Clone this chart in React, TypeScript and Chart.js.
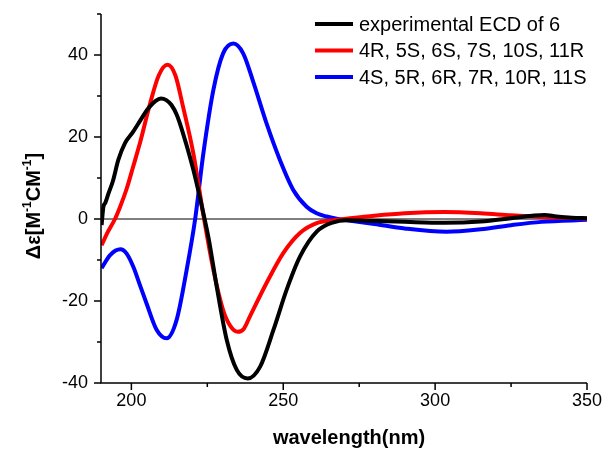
import React, { useEffect, useRef } from "react";
import { Chart, registerables } from "chart.js";

Chart.register(...registerables);

// ---- data (wavelength in nm, Δε) ----
const expX = [190.2, 190.8, 191.4, 192.5, 193.9, 195.7, 197.9, 200.6, 202.3, 205.6, 208.0, 209.7, 211.5, 213.2, 215.0, 217.0, 220.4, 223.7, 225.5, 228.1, 231.4, 234.7, 238.3, 242.4, 246.8, 251.1, 255.5, 261.0, 266.5, 270.9, 280, 290, 303, 315, 325, 332, 336, 340, 345, 350];
const expY = [-1.5, 3.0, 3.9, 6.3, 9.2, 14.4, 18.5, 21.3, 23.3, 27.0, 28.8, 29.4, 29.0, 27.8, 25.3, 20.9, 12.0, 1.4, -5.0, -16.5, -29.5, -36.8, -38.9, -36.0, -27.0, -17.3, -9.2, -3.1, -0.8, -0.3, -0.5, -0.7, -0.9, -0.6, 0.2, 0.8, 1.0, 0.6, 0.3, 0.2];

const calcAX = [190.2, 192.0, 194.6, 196.3, 198.5, 200.6, 203.0, 206.1, 209.0, 211.9, 214.5, 217.0, 220.4, 223.7, 227.0, 230.2, 232.5, 235.0, 237.0, 239.0, 244.5, 250.0, 255.5, 261.0, 266.5, 270.0, 280, 290, 303, 315, 325, 335, 350];
const calcAY = [-6.4, -3.5, 0.0, 3.0, 7.5, 12.8, 19.0, 28.0, 35.0, 37.6, 35.0, 27.4, 16.0, 1.0, -12.4, -22.2, -26.0, -27.5, -26.8, -23.8, -15.6, -8.3, -3.4, -1.0, -0.3, 0.0, 0.8, 1.4, 1.7, 1.4, 0.9, 0.5, 0.1];

const calcBX = [190.2, 193.0, 196.4, 198.5, 200.6, 203.0, 205.0, 208.3, 211.6, 214.9, 218.2, 221.0, 223.7, 227.0, 230.2, 233.6, 236.8, 240.1, 244.5, 248.9, 253.3, 257.7, 261.0, 264.3, 268.0, 271.0, 280, 290, 303.7, 315, 325, 335, 350];
const calcBY = [-12.0, -8.8, -7.4, -8.5, -11.6, -16.5, -20.6, -27.0, -29.1, -24.6, -12.4, 0.0, 16.0, 31.5, 40.4, 42.8, 40.4, 33.5, 23.3, 14.4, 7.1, 3.0, 1.4, 0.6, 0.0, -0.3, -1.2, -2.3, -3.1, -2.5, -1.5, -0.7, -0.2];

const seriesLabels = ["experimental ECD of 6", "4R, 5S, 6S, 7S, 10S, 11R", "4S, 5R, 6R, 7R, 10R, 11S"];
const seriesColors = ["#000000", "#ff0000", "#0000ff"];

const xMajorTicks = [200, 250, 300, 350];
const xMinorTicks = [225, 275, 325];
const yMajorTicks = [-40, -20, 0, 20, 40];
const yMinorTicks = [-30, -10, 10, 30, 50];
const xRange = [190, 350];
const yRange = [-40, 50];

const xTitle = "wavelength(nm)";
const yTitleParts = [
  { t: "Δε[M", sup: false },
  { t: "-1", sup: true },
  { t: "CM", sup: false },
  { t: "-1", sup: true },
  { t: "]", sup: false },
];

const FONT = "'Liberation Sans', Arial, Helvetica, sans-serif";

const zip = (xs: number[], ys: number[]) => xs.map((x, i) => ({ x, y: ys[i] }));

const decorPlugin = {
  id: "decor",
  beforeDatasetsDraw(chart: any) {
    const { ctx, chartArea, scales } = chart;
    const y0 = scales.y.getPixelForValue(0);
    ctx.save();
    ctx.strokeStyle = "#000";
    ctx.lineWidth = 1;
    ctx.beginPath();
    ctx.moveTo(chartArea.left, y0);
    ctx.lineTo(chartArea.right, y0);
    ctx.stroke();
    ctx.restore();
  },
  afterDraw(chart: any) {
    const { ctx, chartArea, scales } = chart;
    const { left, right, top, bottom } = chartArea;
    ctx.save();
    ctx.strokeStyle = "#000";
    ctx.lineWidth = 1.5;
    // axes
    ctx.beginPath();
    ctx.moveTo(left, top);
    ctx.lineTo(left, bottom);
    ctx.lineTo(right, bottom);
    ctx.stroke();
    // ticks
    ctx.beginPath();
    xMajorTicks.forEach((v) => {
      const px = scales.x.getPixelForValue(v);
      ctx.moveTo(px, bottom);
      ctx.lineTo(px, bottom + 7);
    });
    xMinorTicks.forEach((v) => {
      const px = scales.x.getPixelForValue(v);
      ctx.moveTo(px, bottom);
      ctx.lineTo(px, bottom + 4);
    });
    yMajorTicks.forEach((v) => {
      const py = scales.y.getPixelForValue(v);
      ctx.moveTo(left, py);
      ctx.lineTo(left - 7, py);
    });
    yMinorTicks.forEach((v) => {
      const py = scales.y.getPixelForValue(v);
      ctx.moveTo(left, py);
      ctx.lineTo(left - 4, py);
    });
    ctx.stroke();

    // legend
    ctx.font = `20px ${FONT}`;
    ctx.textBaseline = "middle";
    ctx.textAlign = "left";
    seriesLabels.forEach((lab, i) => {
      const yy = 24 + i * 26.5;
      ctx.strokeStyle = seriesColors[i];
      ctx.lineWidth = 4;
      ctx.beginPath();
      ctx.moveTo(315, yy);
      ctx.lineTo(353, yy);
      ctx.stroke();
      ctx.fillStyle = "#000";
      ctx.fillText(lab, 359, yy + 1);
    });

    // x title
    ctx.fillStyle = "#000";
    ctx.font = `bold 20px ${FONT}`;
    ctx.textAlign = "center";
    ctx.textBaseline = "middle";
    ctx.fillText(xTitle, 349, 438);

    // y title (rotated, with superscripts)
    ctx.translate(34, 206);
    ctx.rotate(-Math.PI / 2);
    const mainFont = `bold 20px ${FONT}`;
    const supFont = `bold 12px ${FONT}`;
    let total = 0;
    yTitleParts.forEach((p) => {
      ctx.font = p.sup ? supFont : mainFont;
      total += ctx.measureText(p.t).width;
    });
    let cx = -total / 2;
    ctx.textAlign = "left";
    yTitleParts.forEach((p) => {
      ctx.font = p.sup ? supFont : mainFont;
      ctx.fillText(p.t, cx, p.sup ? -6 : 0);
      cx += ctx.measureText(p.t).width;
    });
    ctx.restore();
  },
};

export default function App() {
  const ref = useRef<HTMLCanvasElement | null>(null);
  useEffect(() => {
    if (!ref.current) return;
    const mk = (xs: number[], ys: number[], i: number) => ({
      label: seriesLabels[i],
      data: zip(xs, ys),
      borderColor: seriesColors[i],
      backgroundColor: seriesColors[i],
      borderWidth: 4,
      pointRadius: 0,
      cubicInterpolationMode: "monotone" as const,
      fill: false,
    });
    const chart = new Chart(ref.current, {
      type: "line",
      data: {
        datasets: [mk(expX, expY, 0), mk(calcAX, calcAY, 1), mk(calcBX, calcBY, 2)],
      },
      options: {
        animation: false,
        responsive: false,
        devicePixelRatio: 1,
        layout: { padding: { top: 14, right: 20, left: 0, bottom: 0 } },
        plugins: { legend: { display: false }, tooltip: { enabled: false } },
        scales: {
          x: {
            type: "linear",
            min: xRange[0],
            max: xRange[1],
            grid: { display: false, drawTicks: false },
            border: { display: false },
            afterBuildTicks: (s: any) => {
              s.ticks = xMajorTicks.map((v) => ({ value: v }));
            },
            afterFit: (s: any) => {
              s.height = 68;
              s.paddingLeft = 0;
              s.paddingRight = 0;
              s.paddingTop = 0;
              s.paddingBottom = 0;
            },
            ticks: { color: "#000", font: { size: 18, family: FONT }, padding: 7, maxRotation: 0 },
          },
          y: {
            type: "linear",
            min: yRange[0],
            max: yRange[1],
            grid: { display: false, drawTicks: false },
            border: { display: false },
            afterBuildTicks: (s: any) => {
              s.ticks = yMajorTicks.map((v) => ({ value: v }));
            },
            afterFit: (s: any) => {
              s.width = 101;
              s.paddingLeft = 0;
              s.paddingRight = 0;
              s.paddingTop = 0;
              s.paddingBottom = 0;
            },
            ticks: { color: "#000", font: { size: 18, family: FONT }, padding: 13 },
          },
        },
      },
      plugins: [decorPlugin],
    });
    return () => chart.destroy();
  }, []);
  return (
    <div style={{ position: "fixed", left: 0, top: 0, width: 607, height: 451, background: "#fff" }}>
      <canvas ref={ref} width={607} height={451} style={{ width: 607, height: 451, display: "block" }} />
    </div>
  );
}
